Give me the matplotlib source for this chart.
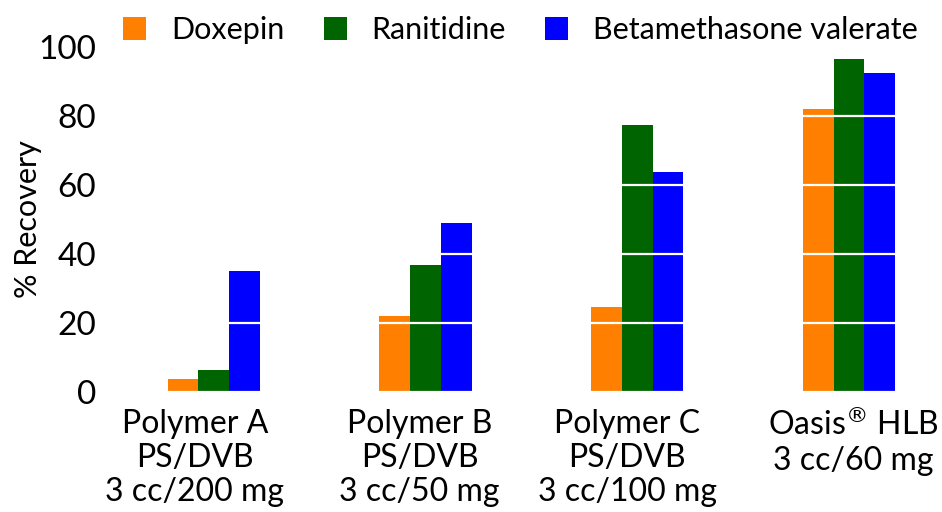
import matplotlib
matplotlib.use("Agg")
import matplotlib.pyplot as plt
import matplotlib.transforms as mtransforms
import numpy as np

# donnees
categories = ["Polymer A\nPS/DVB\n3 cc/200 mg", "Polymer B\nPS/DVB\n3 cc/50 mg",
              "Polymer C\nPS/DVB\n3 cc/100 mg", "Oasis$^{\u00AE}$ HLB\n3 cc/60 mg"]
series = ["Doxepin", "Ranitidine", "Betamethasone valerate"]
doxepin = [3.8, 22, 24.6, 82]
ranitidine = [6.4, 36.8, 77.4, 96.5]
betamethasone = [35, 49, 63.8, 92.5]
valeurs = [doxepin, ranitidine, betamethasone]
couleurs = ["#FF8000", "#006400", "#0000FF"]

plt.rcParams['font.family'] = ['Lato', 'DejaVu Sans']

fig = plt.figure(figsize=(9.42, 5.12), dpi=100)
ax = fig.add_axes([0.1168, 0.2344, 0.8832, 0.6738])

x = np.arange(len(categories))
w = 0.145
for j in range(3):
    ax.bar(x + (j - 1) * w, valeurs[j], w, color=couleurs[j], label=series[j], zorder=1)

ax.set_ylim(0, 100)
ax.set_xlim(-0.49, 3.44)
ax.set_yticks([0, 20, 40, 60, 80, 100])
ax.tick_params(axis='y', labelsize=24, length=0, pad=10)
ax.set_xticks(x)
ax.set_xticklabels(categories, fontsize=23, linespacing=1.18)
ax.tick_params(axis='x', length=0, pad=12)
ax.set_ylabel("% Recovery", fontsize=22, labelpad=-3)

# petit decalage horizontal des etiquettes comme sur l'original
decalages = [-19, -6, -10, 4]
for lab, d in zip(ax.get_xticklabels(), decalages):
    lab.set_transform(lab.get_transform() + mtransforms.ScaledTranslation(d / 100, 0, fig.dpi_scale_trans))

# lignes blanches par dessus les barres
ax.set_axisbelow(False)
ax.yaxis.grid(True, color="white", linewidth=1.6)
ax.xaxis.grid(False)
for s in ax.spines.values():
    s.set_visible(False)

ax.legend(loc="upper right", bbox_to_anchor=(0.985, 1.125), ncol=3, frameon=False,
          fontsize=22, handlelength=0.75, handleheight=0.75, handletextpad=0.8,
          columnspacing=1.3, borderaxespad=0)

fig.savefig("out.png", dpi=100)
